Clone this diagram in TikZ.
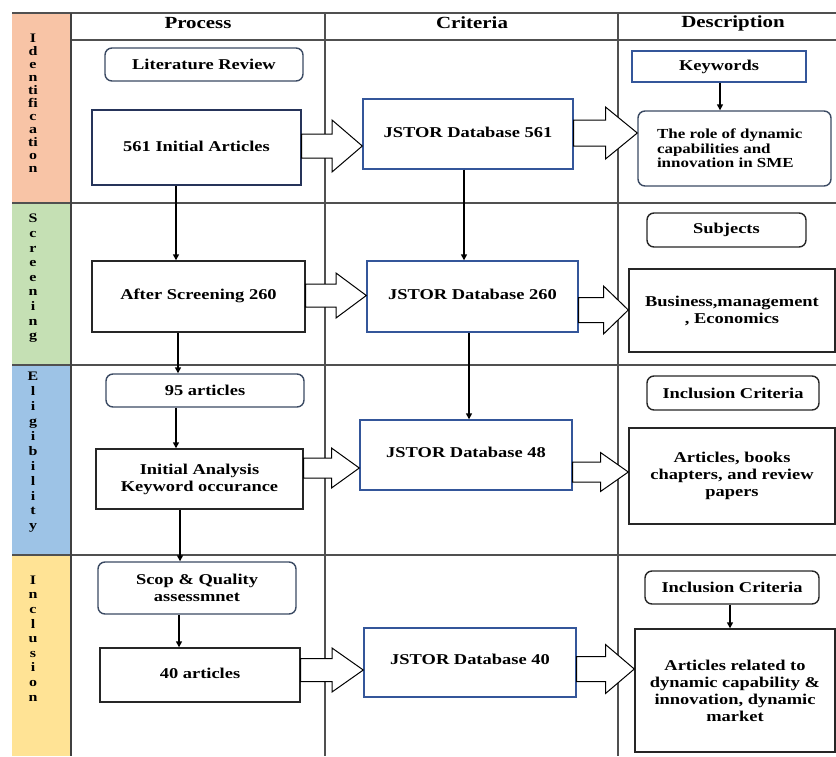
\documentclass[tikz,border=0pt]{standalone}
\usepackage{fontspec}
\setmainfont{Liberation Serif}[FakeStretch=1.23]
\usetikzlibrary{arrows.meta,calc}
\definecolor{idc}{HTML}{F8C4A6}
\definecolor{scc}{HTML}{C5E0B4}
\definecolor{elc}{HTML}{9DC3E6}
\definecolor{inc}{HTML}{FFE395}
\definecolor{gridc}{HTML}{505050}
\definecolor{slate}{HTML}{3B4A63}
\definecolor{navy}{HTML}{26345A}
\definecolor{jblue}{HTML}{34569A}
\tikzset{
  gridline/.style={draw=gridc, line width=1.2pt},
  box/.style={draw=black!85, line width=1.4pt, fill=white, inner sep=0pt, align=center,
    font=\fontsize{15}{17}\selectfont\bfseries},
  rbox/.style={box, rounded corners=7pt},
  jbox/.style={box, draw=jblue},
  head/.style={inner sep=0pt, font=\fontsize{17}{19}\selectfont\bfseries},
  bandtxt/.style={inner sep=0pt, align=center},
  arr/.style={line width=1.4pt, -{Triangle[length=6pt,width=6pt]}},
  blk/.style={draw=black, line width=1pt, fill=white, line join=miter}
}
\newcommand\blockarr[5]{%
  \coordinate (yy) at (0,#3);
  \coordinate (ba) at (#1.east |- yy);
  \coordinate (bc) at (#2.west |- yy);
  \coordinate (bm) at ($(ba)!0.5!(bc)$);
  \draw[blk] ($(ba)+(0,-#4)$) -- ($(bm)+(0,-#4)$) -- ($(bm)+(0,-#5)$) -- (bc)
    -- ($(bm)+(0,#5)$) -- ($(bm)+(0,#4)$) -- ($(ba)+(0,#4)$) -- cycle;
}
\begin{document}
\begin{tikzpicture}[x=1pt,y=-1pt]
\useasboundingbox (0,0) rectangle (836,756);
\clip (0,0) rectangle (836,756);
% phase bands
\fill[idc] (12,13) rectangle (71,203);
\fill[scc] (12,203) rectangle (71,365);
\fill[elc] (12,365) rectangle (71,555);
\fill[inc] (12,555) rectangle (71,756);
% grid
\draw[gridline] (12,13) -- (836,13);
\draw[gridline] (71,40) -- (836,40);
\draw[gridline] (12,203) -- (836,203);
\draw[gridline] (12,365) -- (836,365);
\draw[gridline] (12,555) -- (836,555);
\draw[gridline] (325,13) -- (325,756);
\draw[gridline] (618,13) -- (618,756);
\draw[draw=black!75, line width=1.6pt] (71,13) -- (71,756);
% headers
\node[head] (hp) at (198,23) {Process};
\node[head] (hc) at (472,23) {Criteria};
\node[head] (hd) at (733,23) {Description};
% band letters
\node[bandtxt, font=\fontsize{13}{12.95}\selectfont\bfseries] (bid) at (33,103)
  {I\\d\\e\\n\\ti\\fi\\c\\a\\ti\\o\\n};
\node[bandtxt, font=\fontsize{13}{14.6}\selectfont\bfseries] (bsc) at (33,278.5)
  {S\\c\\r\\e\\e\\n\\i\\n\\g};
\node[bandtxt, font=\fontsize{13}{14.9}\selectfont\bfseries] (bel) at (33,452.5)
  {E\\l\\i\\g\\i\\b\\i\\l\\i\\t\\y};
\node[bandtxt, font=\fontsize{13}{14.6}\selectfont\bfseries] (bin) at (33,638.5)
  {I\\n\\c\\l\\u\\s\\i\\o\\n};
% process column
\node[rbox, draw=slate, minimum width=198pt, minimum height=33pt] (litrev) at (204,64.5) {Literature Review};
\node[box, draw=navy, minimum width=209pt, minimum height=75pt] (init) at (196.5,147.5) {\raisebox{3pt}{561 Initial Articles}};
\node[box, minimum width=213pt, minimum height=71pt] (scr) at (198.5,296.5) {\raisebox{4pt}{After Screening 260}};
\node[rbox, draw=slate, minimum width=198pt, minimum height=33pt] (a95) at (205,390.5) {95 articles};
\node[box, minimum width=207pt, minimum height=60pt] (ian) at (199.5,479) {Initial Analysis\\Keyword occurance};
\node[rbox, draw=slate, minimum width=198pt, minimum height=52pt] (scop) at (197,588) {Scop \& Quality\\assessmnet};
\node[box, minimum width=200pt, minimum height=54pt] (a40) at (200,675) {\raisebox{4pt}{40 articles}};
% criteria column
\node[jbox, minimum width=210pt, minimum height=70pt] (j561) at (468,134) {\raisebox{4pt}{JSTOR Database 561}};
\node[jbox, minimum width=211pt, minimum height=71pt] (j260) at (472.5,296.5) {\raisebox{4.5pt}{JSTOR Database 260}};
\node[jbox, minimum width=212pt, minimum height=70pt] (j48) at (466,455) {\raisebox{5pt}{JSTOR Database 48}};
\node[jbox, minimum width=212pt, minimum height=69pt] (j40) at (470,662.5) {\raisebox{5.5pt}{JSTOR Database 40}};
% description column
\node[box, draw=jblue, minimum width=174pt, minimum height=31pt] (kw) at (719,66.5) {Keywords};
\node[rbox, draw=slate, minimum width=193pt, minimum height=75pt, inner xsep=19pt,
  font=\fontsize{13.8}{14.5}\selectfont\bfseries] (role) at (734.5,148.5)
  {\raisebox{-2pt}{\parbox[c]{155pt}{\raggedright The role of dynamic\\capabilities and\\innovation in SME}}};
\node[rbox, minimum width=159pt, minimum height=34pt] (subj) at (726.5,230) {Subjects};
\node[box, minimum width=206pt, minimum height=83pt] (bus) at (732,310.5) {Business,management\\, Economics};
\node[rbox, minimum width=172pt, minimum height=34pt] (inc1) at (733,393) {Inclusion Criteria};
\node[box, minimum width=206pt, minimum height=96pt] (art) at (732,476) {Articles, books\\chapters, and review\\papers};
\node[rbox, minimum width=174pt, minimum height=33pt] (inc2) at (732,587.5) {Inclusion Criteria};
\node[box, minimum width=200pt, minimum height=123pt] (rel) at (735,690.5)
  {Articles related to\\dynamic capability \&\\innovation, dynamic\\market};
% x positions of the vertical connectors
\coordinate (x1) at (176,0);
\coordinate (x2) at (178,0);
\coordinate (x3) at (176,0);
\coordinate (x4) at (180,0);
\coordinate (x5) at (179,0);
\coordinate (x6) at (464,0);
\coordinate (x7) at (469,0);
\coordinate (x8) at (720,0);
\coordinate (x9) at (730,0);
% vertical connectors
\draw[arr] (init.south -| x1) -- (scr.north -| x1);
\draw[arr] (scr.south -| x2) -- (a95.north -| x2);
\draw[arr] (a95.south -| x3) -- (ian.north -| x3);
\draw[arr] (ian.south -| x4) -- (scop.north -| x4);
\draw[arr] (scop.south -| x5) -- (a40.north -| x5);
\draw[arr] (j561.south -| x6) -- (j260.north -| x6);
\draw[arr] (j260.south -| x7) -- (j48.north -| x7);
\draw[arr] (kw.south -| x8) -- (role.north -| x8);
\draw[arr] (inc2.south -| x9) -- (rel.north -| x9);
% block arrows
\blockarr{init}{j561}{146}{12}{26}
\blockarr{j561}{role}{133}{13}{26}
\blockarr{scr}{j260}{295.5}{11.5}{22.5}
\blockarr{j260}{bus}{310}{12.5}{24}
\blockarr{ian}{j48}{468}{10}{20}
\blockarr{j48}{art}{472}{10}{19.5}
\blockarr{a40}{j40}{670}{11.5}{22}
\blockarr{j40}{rel}{669}{12.5}{24.5}
\end{tikzpicture}
\end{document}
